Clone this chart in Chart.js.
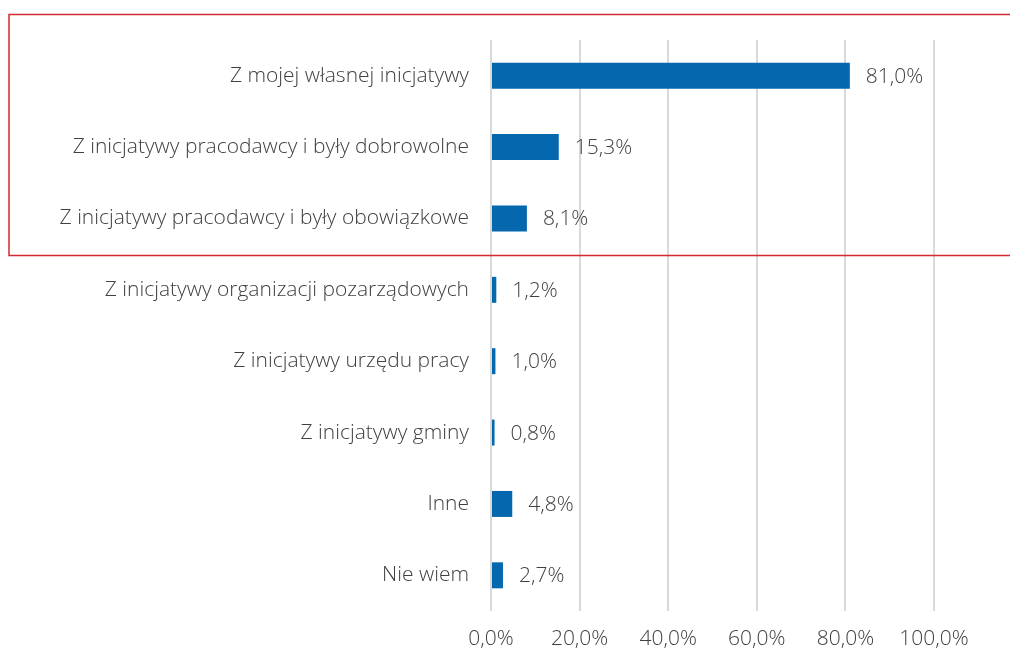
<!DOCTYPE html>
<html><head><meta charset="utf-8">
<script src="https://cdn.jsdelivr.net/npm/chart.js@4/dist/chart.umd.min.js"></script>
<style>html,body{margin:0;padding:0;background:#fff;}canvas{display:block;}</style>
</head><body>
<canvas id="c" width="1010" height="650"></canvas>
<script>
const categories = [
  "Z mojej własnej inicjatywy",
  "Z inicjatywy pracodawcy i były dobrowolne",
  "Z inicjatywy pracodawcy i były obowiązkowe",
  "Z inicjatywy organizacji pozarządowych",
  "Z inicjatywy urzędu pracy",
  "Z inicjatywy gminy",
  "Inne",
  "Nie wiem"
];
const values = [81.0, 15.3, 8.1, 1.2, 1.0, 0.8, 4.8, 2.7];
const tickValues = [0, 20, 40, 60, 80, 100];

const fmt = v => v.toFixed(1).replace('.', ',') + '%';
const FONT = "'Open Sans', sans-serif";

const labelPlugin = {
  id: 'valueLabels',
  afterDatasetsDraw(chart) {
    const ctx = chart.ctx;
    const meta = chart.getDatasetMeta(0);
    ctx.save();
    ctx.font = "300 21px " + FONT;
    ctx.fillStyle = '#404040';
    ctx.textAlign = 'left';
    ctx.textBaseline = 'middle';
    meta.data.forEach((bar, i) => {
      ctx.fillText(fmt(values[i]), bar.x + 16, bar.y + 1);
    });
    ctx.restore();
  }
};
const framePlugin = {
  id: 'redFrame',
  afterDraw(chart) {
    const ctx = chart.ctx;
    ctx.save();
    ctx.strokeStyle = '#d42a31';
    ctx.lineWidth = 1.5;
    ctx.beginPath();
    ctx.moveTo(1012, 14.5);
    ctx.lineTo(9, 14.5);
    ctx.lineTo(9, 255.5);
    ctx.lineTo(1012, 255.5);
    ctx.stroke();
    ctx.restore();
  }
};

new Chart(document.getElementById('c'), {
  type: 'bar',
  data: {
    labels: categories,
    datasets: [{
      data: values,
      backgroundColor: '#0567ae',
      barPercentage: 0.364,
      categoryPercentage: 1.0
    }]
  },
  options: {
    indexAxis: 'y',
    responsive: false,
    animation: false,
    layout: { padding: { top: 40, right: 76, left: 0, bottom: 0 } },
    plugins: { legend: { display: false }, tooltip: { enabled: false } },
    scales: {
      x: {
        min: 0, max: 100,
        afterBuildTicks(scale) { scale.ticks = tickValues.map(v => ({ value: v })); },
        afterFit(scale) { scale.height = 39; },
        grid: { color: '#d9d9d9', lineWidth: 2, drawTicks: false },
        border: { display: false },
        ticks: {
          padding: 15,
          color: '#404040',
          font: { family: FONT, size: 21, weight: 300 },
          callback: v => fmt(v)
        }
      },
      y: {
        afterFit(scale) { scale.width = 491; },
        grid: { display: false, drawTicks: false },
        border: { display: false },
        ticks: {
          padding: 22,
          color: '#404040',
          font: { family: FONT, size: 21, weight: 300 }
        }
      }
    }
  },
  plugins: [labelPlugin, framePlugin]
});
</script>
</body></html>
